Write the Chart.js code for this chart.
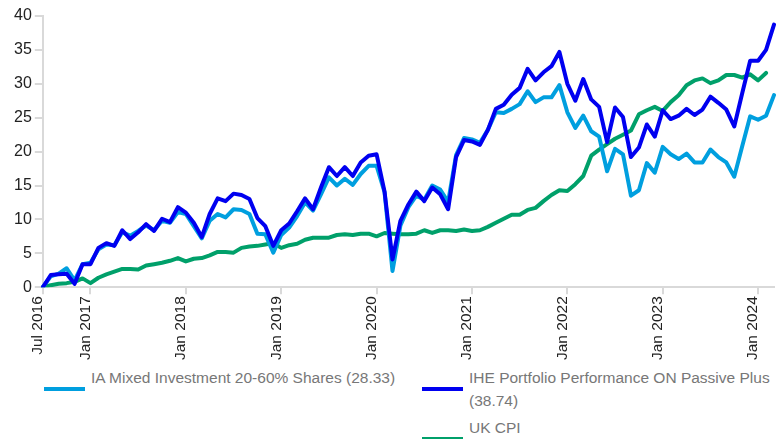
<!DOCTYPE html>
<html>
<head>
<meta charset="utf-8">
<script src="https://cdn.jsdelivr.net/npm/chart.js@4"></script>
<style>
  html, body { margin: 0; padding: 0; background: #fff; }
  body { width: 779px; height: 439px; position: relative; overflow: hidden; font-family: "Liberation Sans", Arial, sans-serif; }
  #wrap { position: absolute; left: 0; top: 0; width: 779px; height: 365px; }
  .sw { position: absolute; width: 41px; height: 4px; }
  .lt { position: absolute; font-size: 15.5px; line-height: 23px; color: #777; white-space: nowrap; }
</style>
</head>
<body>
<div id="wrap"><canvas id="c" width="779" height="365"></canvas></div>
<div class="sw" style="left:44px; top:387px; background:#009FDF;"></div>
<div class="lt" style="left:91px; top:366px;">IA Mixed Investment 20-60% Shares (28.33)</div>
<div class="sw" style="left:422px; top:387px; background:#0000F0;"></div>
<div class="lt" style="left:469px; top:366px;">IHE Portfolio Performance ON Passive Plus<br>(38.74)</div>
<div class="sw" style="left:422px; top:437px; background:#00A06A;"></div>
<div class="lt" style="left:469px; top:416px;">UK CPI</div>
<script>
const months = [
  "Jul 2016","Aug 2016","Sep 2016","Oct 2016","Nov 2016","Dec 2016",
  "Jan 2017","Feb 2017","Mar 2017","Apr 2017","May 2017","Jun 2017","Jul 2017","Aug 2017","Sep 2017","Oct 2017","Nov 2017","Dec 2017",
  "Jan 2018","Feb 2018","Mar 2018","Apr 2018","May 2018","Jun 2018","Jul 2018","Aug 2018","Sep 2018","Oct 2018","Nov 2018","Dec 2018",
  "Jan 2019","Feb 2019","Mar 2019","Apr 2019","May 2019","Jun 2019","Jul 2019","Aug 2019","Sep 2019","Oct 2019","Nov 2019","Dec 2019",
  "Jan 2020","Feb 2020","Mar 2020","Apr 2020","May 2020","Jun 2020","Jul 2020","Aug 2020","Sep 2020","Oct 2020","Nov 2020","Dec 2020",
  "Jan 2021","Feb 2021","Mar 2021","Apr 2021","May 2021","Jun 2021","Jul 2021","Aug 2021","Sep 2021","Oct 2021","Nov 2021","Dec 2021",
  "Jan 2022","Feb 2022","Mar 2022","Apr 2022","May 2022","Jun 2022","Jul 2022","Aug 2022","Sep 2022","Oct 2022","Nov 2022","Dec 2022",
  "Jan 2023","Feb 2023","Mar 2023","Apr 2023","May 2023","Jun 2023","Jul 2023","Aug 2023","Sep 2023","Oct 2023","Nov 2023","Dec 2023",
  "Jan 2024","Feb 2024","Mar 2024"
];

const tickLabels = ["Jul 2016","Jan 2017","Jan 2018","Jan 2019","Jan 2020","Jan 2021","Jan 2022","Jan 2023","Jan 2024"];

const iaMixed = [
  0, 1.6, 2.0, 2.8, 1.0, 3.4, 3.6, 5.6, 6.3, 6.2, 8.1, 7.6,
  8.3, 9.1, 8.4, 9.8, 9.5, 11.1, 10.8, 9.0, 7.2, 9.8, 10.8, 10.3,
  11.5, 11.4, 10.8, 7.9, 7.8, 5.1, 7.7, 8.8, 10.5, 12.5, 11.3, 13.7,
  16.2, 15.0, 16.0, 15.1, 16.7, 17.9, 17.9, 14.0, 2.4, 9.1, 11.8, 13.5,
  12.9, 15.0, 14.4, 12.6, 19.5, 22.0, 21.8, 21.3, 23.2, 25.8, 25.7, 26.3,
  27.0, 28.9, 27.3, 28.0, 28.0, 29.8, 25.8, 23.5, 25.3, 23.0, 22.2, 17.1,
  20.4, 19.6, 13.5, 14.3, 18.3, 16.9, 20.7, 19.6, 18.9, 19.7, 18.4, 18.4,
  20.3, 19.2, 18.4, 16.3, 20.8, 25.2, 24.7, 25.3, 28.33
];

const iheOnPassivePlus = [
  0, 1.8, 1.9, 2.0, 0.5, 3.4, 3.4, 5.8, 6.5, 6.1, 8.4, 7.1,
  8.1, 9.3, 8.3, 10.1, 9.6, 11.8, 11.0, 9.5, 7.4, 10.8, 13.1, 12.7,
  13.8, 13.6, 13.0, 10.2, 9.0, 6.1, 8.4, 9.4, 11.2, 13.1, 11.5, 14.7,
  17.7, 16.4, 17.7, 16.4, 18.4, 19.4, 19.6, 14.1, 4.1, 9.8, 12.2, 14.1,
  12.7, 14.7, 13.7, 11.5, 19.2, 21.7, 21.5, 21.0, 23.2, 26.3, 26.9, 28.4,
  29.4, 32.2, 30.5, 31.7, 32.6, 34.7, 30.0, 27.5, 30.7, 27.7, 26.6, 21.4,
  26.5, 25.1, 19.2, 20.6, 24.0, 22.2, 26.1, 24.8, 25.3, 26.3, 25.4, 26.2,
  28.1, 27.2, 26.2, 23.7, 28.6, 33.4, 33.4, 35.0, 38.74
];

const ukCpi = [
  0, 0.3, 0.5, 0.6, 0.8, 1.3, 0.6, 1.4, 1.9, 2.3, 2.7, 2.7,
  2.6, 3.2, 3.4, 3.6, 3.9, 4.3, 3.8, 4.2, 4.3, 4.7, 5.2, 5.2,
  5.1, 5.8, 6.0, 6.1, 6.3, 6.5, 5.8, 6.2, 6.4, 7.0, 7.3, 7.3,
  7.3, 7.7, 7.8, 7.7, 7.9, 7.9, 7.5, 8.0, 7.9, 7.8, 7.8, 7.9,
  8.4, 8.0, 8.4, 8.4, 8.3, 8.5, 8.3, 8.4, 8.9, 9.5, 10.1, 10.7,
  10.7, 11.4, 11.7, 12.7, 13.6, 14.3, 14.2, 15.2, 16.4, 19.4, 20.3, 21.1,
  21.9, 22.5, 23.1, 25.5, 26.1, 26.6, 26.0, 27.3, 28.3, 29.8, 30.5, 30.8,
  30.1, 30.5, 31.3, 31.3, 30.9, 31.4, 30.5, 31.6, null
];

const yTicks = { min: 0, max: 40, step: 5 };

const AXIS_COL = '#d9d9d9';
const isShown = (i) => tickLabels.includes(months[i]);

new Chart(document.getElementById('c'), {
  type: 'line',
  data: {
    labels: months,
    datasets: [
      { label: 'IA Mixed Investment 20-60% Shares (28.33)', data: iaMixed, borderColor: '#009FDF', order: 1 },
      { label: 'IHE Portfolio Performance ON Passive Plus (38.74)', data: iheOnPassivePlus, borderColor: '#0000F0', order: 0 },
      { label: 'UK CPI', data: ukCpi, borderColor: '#00A06A', order: 2 }
    ]
  },
  options: {
    responsive: false,
    animation: false,
    devicePixelRatio: 1,
    elements: {
      line: { borderWidth: 4, tension: 0, fill: false, borderJoinStyle: 'round', borderCapStyle: 'round' },
      point: { radius: 0, hoverRadius: 0 }
    },
    layout: { padding: { left: 11, right: 5, top: 16, bottom: 3 } },
    plugins: { legend: { display: false }, tooltip: { enabled: false } },
    scales: {
      x: {
        type: 'category',
        offset: false,
        afterFit: (scale) => { scale.paddingRight = 0; },
        border: { display: true, color: AXIS_COL, width: 2 },
        grid: {
          drawOnChartArea: false,
          drawTicks: true,
          tickLength: 7,
          lineWidth: 2,
          color: (ctx) => (ctx.index !== undefined && isShown(ctx.index)) ? AXIS_COL : 'rgba(0,0,0,0)'
        },
        ticks: {
          autoSkip: false,
          maxRotation: 90,
          minRotation: 90,
          padding: 2,
          labelOffset: -5,
          color: '#222',
          font: { family: 'Liberation Sans', size: 15.5 },
          callback: function (value, index) {
            const l = this.getLabelForValue(value);
            return tickLabels.includes(l) ? l : '';
          }
        }
      },
      y: {
        min: yTicks.min,
        max: yTicks.max,
        border: { display: true, color: AXIS_COL, width: 2 },
        grid: { drawOnChartArea: false, drawTicks: true, tickLength: 8, lineWidth: 2, color: AXIS_COL },
        ticks: {
          stepSize: yTicks.step,
          padding: 3,
          color: '#222',
          font: { family: 'Liberation Sans', size: 16 }
        }
      }
    }
  }
});
</script>
</body>
</html>
